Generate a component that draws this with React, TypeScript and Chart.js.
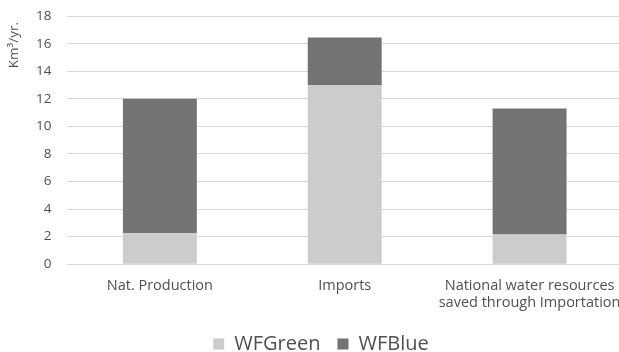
import React, { useEffect, useRef } from "react";
import { Chart, registerables } from "chart.js";

Chart.register(...registerables);

const categories: (string | string[])[] = [
  "Nat. Production",
  "Imports",
  ["National water resources", "saved through Importation"],
];
const wfGreen = [2.25, 13.0, 2.15];
const wfBlue = [9.75, 3.45, 9.15];
const yTicks = [0, 2, 4, 6, 8, 10, 12, 14, 16, 18];
const yTitle = "Km³/yr.";

const FONT = "'Open Sans', sans-serif";
const TXT = "#505050";

const yTitlePlugin = {
  id: "yTitlePlugin",
  afterDraw(chart: any) {
    const { ctx, chartArea } = chart;
    ctx.save();
    ctx.translate(chartArea.left - 53, chartArea.top + 29);
    ctx.rotate(-Math.PI / 2);
    ctx.textAlign = "center";
    ctx.textBaseline = "middle";
    ctx.fillStyle = TXT;
    ctx.font = `13.5px ${FONT}`;
    ctx.fillText(yTitle, 0, 0);
    ctx.restore();
  },
};

export default function App() {
  const ref = useRef<HTMLCanvasElement | null>(null);
  useEffect(() => {
    if (!ref.current) return;
    const chart = new Chart(ref.current, {
      type: "bar",
      data: {
        labels: categories,
        datasets: [
          {
            label: "WFGreen",
            data: wfGreen,
            backgroundColor: "#cccccc",
            categoryPercentage: 0.4,
            barPercentage: 1,
          },
          {
            label: "WFBlue",
            data: wfBlue,
            backgroundColor: "#737373",
            categoryPercentage: 0.4,
            barPercentage: 1,
          },
        ],
      },
      plugins: [yTitlePlugin],
      options: {
        animation: false,
        responsive: false,
        maintainAspectRatio: false,
        layout: { padding: { left: 22, right: 8, top: 2, bottom: 0 } },
        plugins: {
          legend: {
            position: "bottom",
            labels: {
              boxWidth: 11,
              boxHeight: 11,
              padding: 17,
              color: TXT,
              font: { family: FONT, size: 20 },
            },
          },
          tooltip: { enabled: false },
        },
        scales: {
          x: {
            stacked: true,
            grid: { display: false },
            border: { color: "#d9d9d9" },
            ticks: {
              color: TXT,
              padding: 5,
              font: { family: FONT, size: 14.5 },
              maxRotation: 0,
              autoSkip: false,
            },
          },
          y: {
            stacked: true,
            min: 0,
            max: 18,
            afterBuildTicks: (axis: any) => {
              axis.ticks = yTicks.map((v) => ({ value: v }));
            },
            grid: { color: "#d9d9d9", drawTicks: false },
            border: { display: false },
            ticks: {
              color: TXT,
              padding: 16,
              font: { family: FONT, size: 13.5 },
            },
          },
        },
      },
    });
    return () => chart.destroy();
  }, []);
  return (
    <div
      style={{
        position: "absolute",
        left: 0,
        top: 0,
        width: 619,
        height: 352,
        overflow: "hidden",
        background: "#fff",
      }}
    >
      <canvas
        ref={ref}
        width={632}
        height={372}
        style={{ position: "absolute", left: -2, top: -8, width: 632, height: 372 }}
      />
    </div>
  );
}
